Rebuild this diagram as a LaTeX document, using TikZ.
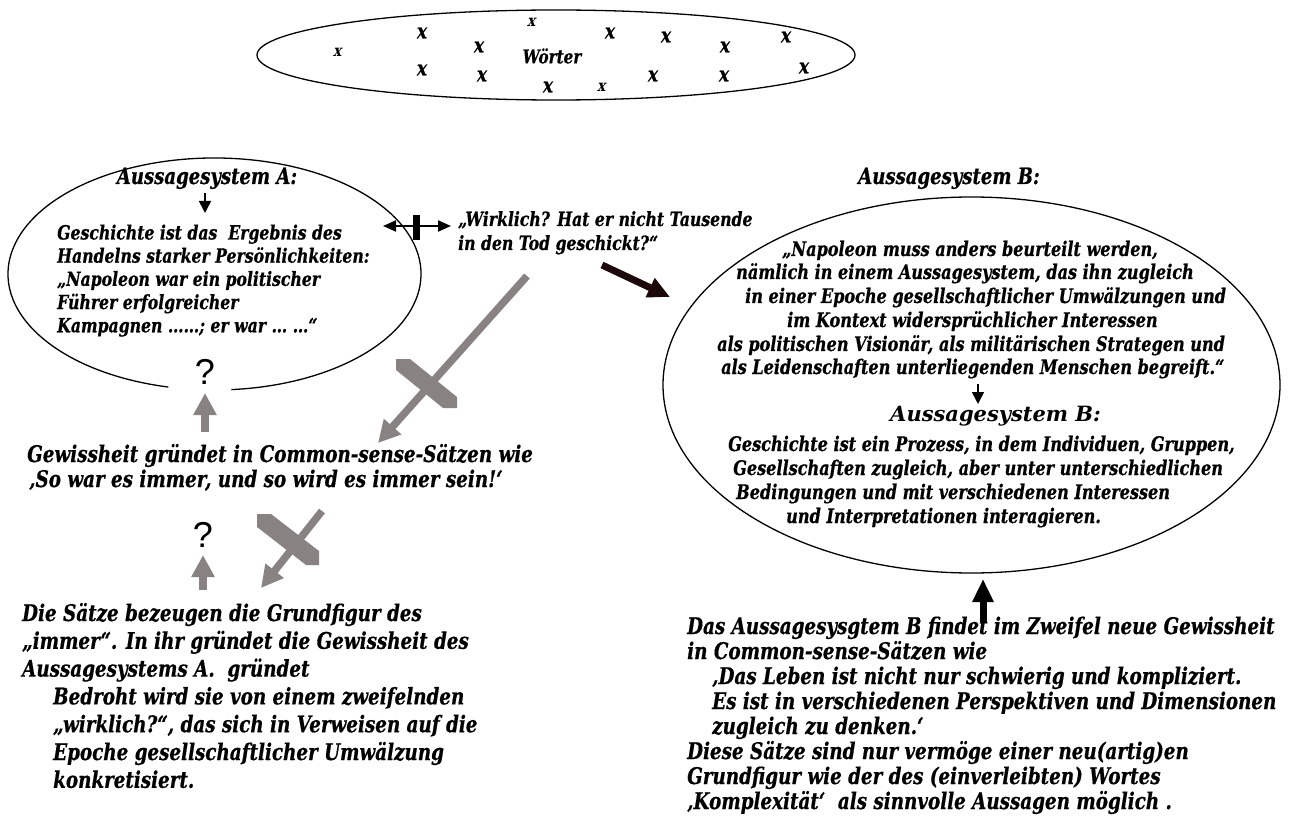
\documentclass[tikz,border=0pt]{standalone}
\usepackage{fontspec}
\setmainfont{DejaVu Serif}[FakeStretch=0.80,BoldItalicFeatures={FakeBold=0.6}]
\newfontfamily\widefont{DejaVu Serif}[FakeStretch=1.0]
\newfontfamily\lightx{DejaVu Serif}[FakeStretch=0.85]
\newfontfamily\qfont{Liberation Sans}
\usetikzlibrary{arrows.meta,calc}
\definecolor{crossgray}{RGB}{137,130,130}
\definecolor{darkred}{RGB}{28,8,8}

\begin{document}
\begin{tikzpicture}[x=1pt,y=-1pt,
  every node/.style={inner sep=0pt},
  rim/.style={draw=black,line width=1.3pt},
  bodysmall/.style={anchor=base west,font=\bfseries\itshape\fontsize{19.6}{22}\selectfont},
  bodyinner/.style={anchor=base west,font=\bfseries\itshape\fontsize{20.1}{22}\selectfont},
  bodylarge/.style={anchor=base west,font=\bfseries\itshape\fontsize{22.9}{26}\selectfont},
  heading/.style={anchor=base,font=\bfseries\itshape\fontsize{22.6}{24}\selectfont},
  widehead/.style={anchor=base west,font=\widefont\bfseries\itshape\fontsize{21}{24}\selectfont},
  qmark/.style={font=\qfont\fontsize{36}{40}\selectfont},
  boldx/.style={font=\bfseries\itshape\fontsize{21}{22}\selectfont},
  thinx/.style={font=\lightx\bfseries\fontsize{16}{18}\selectfont,xslant=0.22,transform shape},
  grayshaft/.style={draw=crossgray,line width=7.5pt,-{Triangle[width=22pt,length=22pt]}},
  darkshaft/.style={draw=darkred,line width=7pt,-{Triangle[width=20pt,length=22pt]}},
  blackshaft/.style={draw=black,line width=7pt,-{Triangle[width=20pt,length=23pt]}},
  thinarrow/.style={draw=black,line width=1.6pt,-{Triangle[width=12pt,length=12pt]}},
  twoway/.style={draw=black,line width=2pt,{Triangle[width=11pt,length=13pt]}-{Triangle[width=11pt,length=13pt]}},
  crossbar/.style={fill=crossgray},
]
\useasboundingbox (0,0) rectangle (1296,834);

% ---------------- word cloud ----------------
\coordinate (cW) at (556,55);
\draw[rim] (cW) ellipse [x radius=299, y radius=45];
\node[font=\bfseries\itshape\fontsize{19}{22}\selectfont] (words) at (552,56) {Wörter};
\foreach \px/\py [count=\i] in {422/33,422/70,479/47,482/76,548/87,610/33,666/37,653/76,725/47,724/76,786/37,804/68}
  \node[boldx] (xb\i) at (\px,\py) {x};
\foreach \px/\py [count=\i] in {338/52,532/22,602/87}
  \node[thinx] (xt\i) at (\px,\py) {x};

% ---------------- system A ----------------
\coordinate (cA) at (214.5,274);
\draw[rim] ($(cA)+(102.9:206.5 and 116)$) arc[start angle=102.9,end angle=445.3,x radius=206.5,y radius=116];
\node[heading] (tA) at (207,184) {Aussagesystem A:};
\foreach \t [count=\i] in {{Geschichte ist das\ \ Ergebnis des},{Handelns starker Persönlichkeiten:},{„Napoleon war ein politischer},{Führer erfolgreicher},{Kampagnen ……; er war … …“}}
  \node[bodysmall] (sa\i) at (57,{239.5+23.2*(\i-1)}) {\t};
\coordinate (aA1) at (205,193);
\coordinate (aA2) at (205,213);
\draw[thinarrow] (aA1) -- (aA2);

\node[qmark] (q1) at (205,372) {?};
\coordinate (u1s) at (205,432);
\coordinate (u1e) at (205,393);
\draw[grayshaft] (u1s) -- (u1e);

% ---------------- doubt ----------------
\coordinate (dl) at (383,226);
\coordinate (dr) at (451,226);
\draw[twoway] (dl) -- (dr);
\fill (413,215) rectangle (420,240);
\node[bodysmall] (w1) at (458,226) {„Wirklich? Hat er nicht Tausende};
\node[bodysmall] (w2) at (458,250) {in den Tod geschickt?“};
\coordinate (k1) at (602,265);
\coordinate (k2) at (670,297);
\draw[darkshaft] (k1) -- (k2);

% crossed-out arrows
\coordinate (g1s) at (527,276);
\coordinate (g1e) at (378,443);
\draw[grayshaft] (g1s) -- (g1e);
\fill[crossbar] (396,359) -- (410,359) -- (457,397) -- (457,408) -- (443,408) -- (396,370) -- cycle;

\node[bodylarge] (cs1) at (27,462) {Gewissheit gründet in Common-sense-Sätzen wie};
\node[bodylarge] (cs2) at (29,487) {‚So war es immer, und so wird es immer sein!‘};

\coordinate (g2s) at (322,511);
\coordinate (g2e) at (261,588);
\draw[grayshaft] (g2s) -- (g2e);
\fill[crossbar] (257,514) -- (271,514) -- (319,551) -- (319,565) -- (306,565) -- (257,527) -- cycle;

\node[qmark] (q2) at (203,535) {?};
\coordinate (u2s) at (203,590);
\coordinate (u2e) at (203,555);
\draw[grayshaft] (u2s) -- (u2e);

\foreach \xx/\t [count=\i] in {22/{Die Sätze bezeugen die Grundfigur des},22/{„immer“. In ihr gründet die Gewissheit des},22/{Aussagesystems A.\ \ gründet},53/{Bedroht wird sie von einem zweifelnden},53/{„wirklich?“, das sich in Verweisen auf die},53/{Epoche gesellschaftlicher Umwälzung},53/{konkretisiert.}}
  \node[bodylarge] (bl\i) at (\xx,{621+27.8*(\i-1)}) {\t};

% ---------------- system B ----------------
\node[heading] (tB) at (949,184) {Aussagesystem B:};
\coordinate (cB) at (971.5,385);
\draw[rim] (cB) ellipse [x radius=308.5, y radius=188];
\foreach \xx/\yy/\t [count=\i] in {782/256/{„Napoleon muss anders beurteilt werden,},736/279/{nämlich in einem Aussagesystem, das ihn zugleich},745/303/{in einer Epoche gesellschaftlicher Umwälzungen und},787/327/{im Kontext widersprüchlicher Interessen},717/351/{als politischen Visionär, als militärischen Strategen und},721/374/{als Leidenschaften unterliegenden Menschen begreift.“}}
  \node[bodyinner] (sb\i) at (\xx,\yy) {\t};
\coordinate (aB1) at (978,384);
\coordinate (aB2) at (978,404);
\draw[thinarrow] (aB1) -- (aB2);
\node[widehead] (tB2) at (890,421) {Aussagesystem B:};
\foreach \xx/\yy/\t [count=\i] in {728/451/{Geschichte ist ein Prozess, in dem Individuen, Gruppen,},733/475/{Gesellschaften zugleich, aber unter unterschiedlichen},736/499/{Bedingungen und mit verschiedenen Interessen},786/523/{und Interpretationen interagieren.}}
  \node[bodyinner] (sc\i) at (\xx,\yy) {\t};

\coordinate (bu1) at (983,623);
\coordinate (bu2) at (983,579);
\draw[blackshaft] (bu1) -- (bu2);

\foreach \xx/\t [count=\i] in {687/{Das Aussagesysgtem B findet im Zweifel neue Gewissheit},687/{in Common-sense-Sätzen wie},712/{‚Das Leben ist nicht nur schwierig und kompliziert.},712/{Es ist in verschiedenen Perspektiven und Dimensionen},712/{zugleich zu denken.‘},687/{Diese Sätze sind nur vermöge einer neu(artig)en},687/{Grundfigur wie der des (einverleibten) Wortes},687/{‚Komplexität‘\ \ als sinnvolle Aussagen möglich .}}
  \node[bodylarge] (br\i) at (\xx,{634+25*(\i-1)}) {\t};
\end{tikzpicture}
\end{document}
